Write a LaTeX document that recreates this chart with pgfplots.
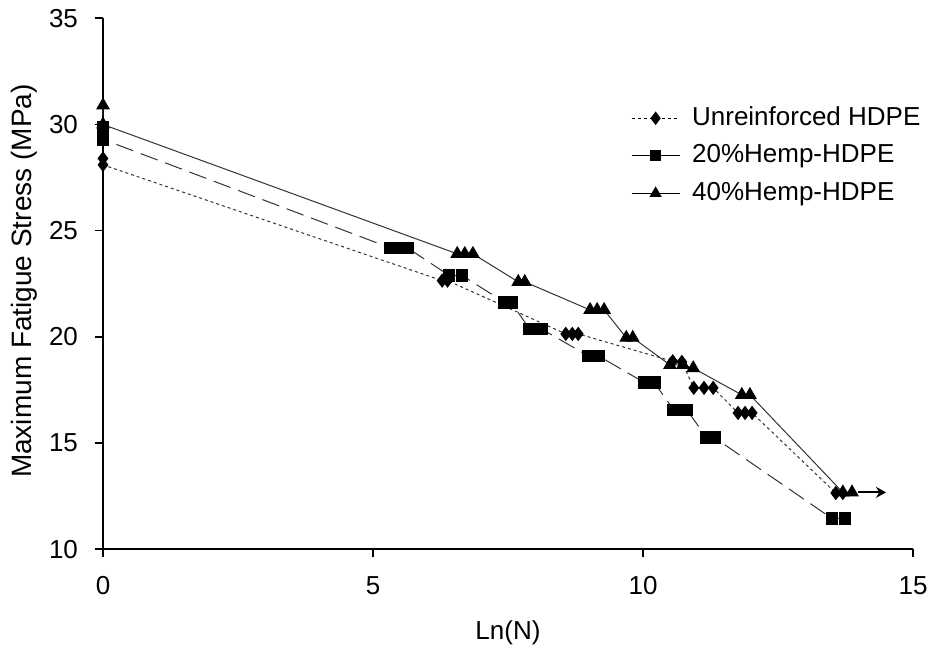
\documentclass[border=0pt]{standalone}
\usepackage{fontspec}
\setmainfont{Liberation Sans}
\usepackage{pgfplots}
\pgfplotsset{compat=1.18}
\usetikzlibrary{arrows.meta}

% S-N data: Ln(number of cycles) vs. maximum fatigue stress (MPa)
\pgfplotstableread{
x y
0 28.4
0 28.1
6.28 22.65
6.38 22.65
8.57 20.14
8.69 20.14
8.80 20.14
10.55 18.85
10.72 18.82
10.94 17.60
11.13 17.60
11.30 17.60
11.76 16.42
11.89 16.42
12.02 16.42
13.57 12.65
13.70 12.65
}\unreinforced

\pgfplotstableread{
x y
0 29.85
0 29.55
0 29.30
5.32 24.19
5.48 24.19
5.64 24.19
6.41 22.89
6.65 22.89
7.44 21.62
7.56 21.62
7.90 20.37
8.12 20.37
8.99 19.10
9.18 19.10
10.03 17.84
10.21 17.84
10.57 16.56
10.81 16.56
11.18 15.26
11.32 15.26
13.50 11.45
13.74 11.45
}\hempA

\pgfplotstableread{
x y
0 30.9
0 30.0
6.56 23.91
6.70 23.91
6.85 23.91
7.69 22.59
7.81 22.59
9.02 21.27
9.15 21.27
9.28 21.27
9.69 19.96
9.81 19.96
10.50 18.68
10.74 18.68
10.93 18.53
11.83 17.27
11.98 17.27
13.70 12.68
13.87 12.68
}\hempB

\begin{document}
\begin{tikzpicture}
\begin{axis}[
  scale only axis,
  width=405pt, height=265.5pt,
  xmin=0, xmax=15, ymin=10, ymax=35,
  axis x line=bottom, axis y line=left,
  axis line style={-, line width=0.8pt, black},
  tick align=outside, major tick length=4pt,
  tick style={line width=0.8pt, black},
  xtick={0,5,10,15}, ytick={10,15,...,35},
  font=\fontsize{13}{15.5}\selectfont,
  /pgf/number format/assume math mode=true,
  ticklabel style={font=\fontsize{13}{15.5}\selectfont},
  xticklabel style={yshift=-6pt},
  yticklabel style={xshift=-5pt},
  xlabel={Ln(N)}, ylabel={Maximum Fatigue Stress (MPa)},
  every axis x label/.style={at={([yshift=-41.85pt]axis description cs:0.5,0)}, anchor=center},
  every axis y label/.style={at={([xshift=-39.25pt]axis description cs:0,0.505)}, anchor=center, rotate=90,
    font=\fontsize{14}{16}\selectfont},
  clip=false,
  legend image code/.code={
    \draw[mark repeat=2, mark phase=2, #1] plot coordinates {(0pt,0pt) (12pt,0pt) (24pt,0pt)};
  },
  legend style={draw=none, fill=none, inner sep=0pt, outer sep=0pt,
    at={(axis description cs:0.652,0.838)}, anchor=north west,
    nodes={inner sep=1pt, text height=9.5pt, text depth=2.5pt, font=\fontsize{13}{15.5}\selectfont},
    row sep=4.75pt, column sep=5pt},
  legend cell align=left,
]
\addplot[forget plot, black!80, line width=0.5pt, dash pattern=on 1.5pt off 1.5pt,
  mark=diamond*, mark size=3.2pt, mark options={solid, fill=black, draw=black}]
  table {\unreinforced};
\addplot[forget plot, black!80, line width=0.5pt, dash pattern=on 9pt off 4pt,
  mark=square*, mark size=2.9pt, mark options={solid, fill=black, draw=black}]
  table {\hempA};
\addplot[forget plot, black!80, line width=0.5pt,
  mark=triangle*, mark size=3.5pt, mark options={solid, fill=black, draw=black}]
  table {\hempB};

% run-out arrow at the lowest stress level
\draw[-{Stealth[length=5pt, width=5.5pt]}, line width=1pt, black]
  (axis cs:13.98,12.68) -- (axis cs:14.5,12.68);

\addlegendimage{black, line width=0.5pt, dash pattern=on 1.5pt off 1.5pt,
  mark=diamond*, mark size=3pt, mark options={solid, fill=black}}
\addlegendentry{Unreinforced HDPE}
\addlegendimage{black, line width=0.5pt, mark=square*, mark size=2.5pt, mark options={fill=black}}
\addlegendentry{20\%Hemp-HDPE}
\addlegendimage{black, line width=0.5pt, mark=triangle*, mark size=3pt, mark options={fill=black}}
\addlegendentry{40\%Hemp-HDPE}
\end{axis}
\pgfresetboundingbox
\path[use as bounding box] (-51.5pt,-53.35pt) rectangle (413.5pt,274.65pt);
\end{tikzpicture}
\end{document}
